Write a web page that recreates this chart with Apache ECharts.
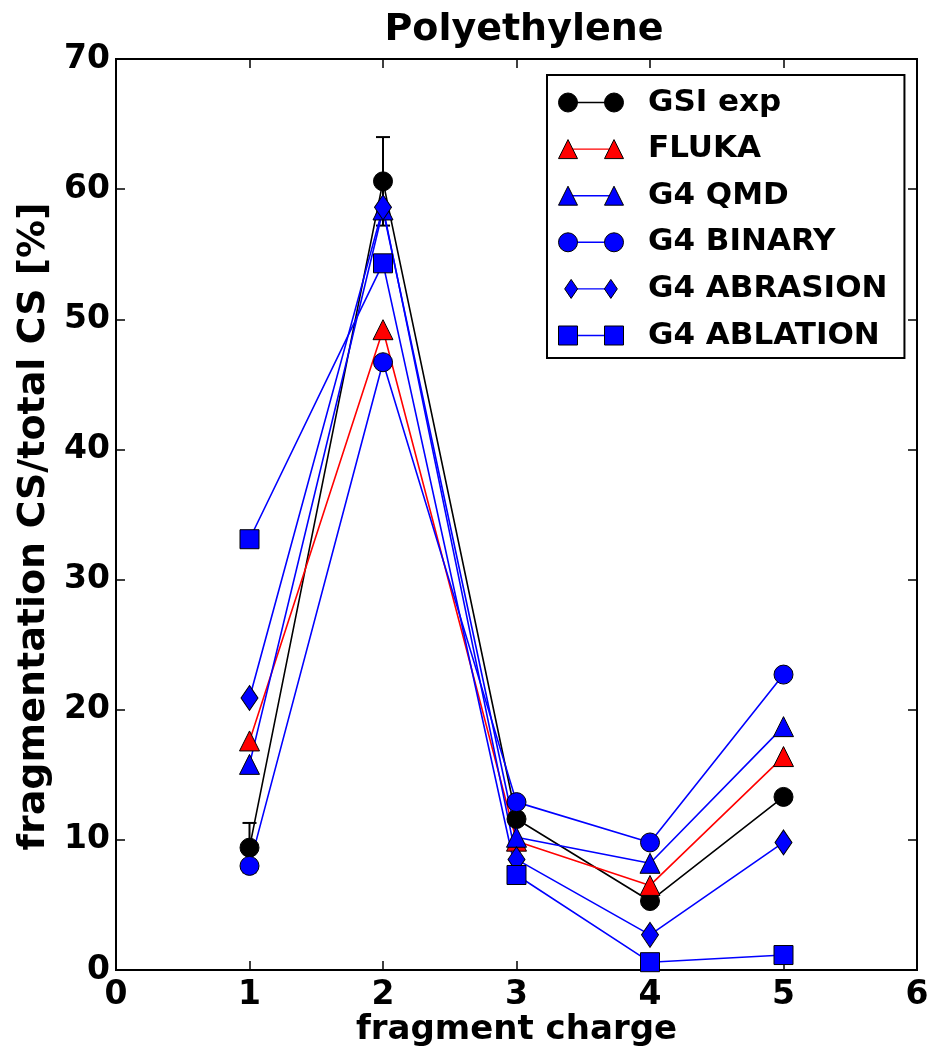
<!DOCTYPE html>
<html>
<head>
<meta charset="utf-8">
<script src="https://cdn.jsdelivr.net/npm/echarts@6/dist/echarts.min.js"></script>
<style>
html,body{margin:0;padding:0;background:#fff;}
#chart{width:931px;height:1048px;}
</style>
</head>
<body>
<div id="chart"></div>
<script>
// ---- data ----
var charges = [1, 2, 3, 4, 5];
var seriesNames = ['GSI exp', 'FLUKA', 'G4 QMD', 'G4 BINARY', 'G4 ABRASION', 'G4 ABLATION'];
var gsiExp   = [9.4, 60.6, 11.6, 5.3, 13.3];
var gsiErr   = [1.9, 3.4, 0.4, 0.3, 0.4];
var fluka    = [17.6, 49.2, 9.9, 6.5, 16.4];
var g4Qmd    = [15.8, 58.4, 10.2, 8.2, 18.7];
var g4Binary = [8.0, 46.7, 12.9, 9.8, 22.7];
var g4Abrasion = [20.9, 58.6, 8.5, 2.7, 9.8];
var g4Ablation = [33.1, 54.3, 7.3, 0.6, 1.15];
var xTicks = [0, 1, 2, 3, 4, 5, 6];
var yTicks = [0, 10, 20, 30, 40, 50, 60, 70];

// ---- styles ----
var FONT = 'DejaVu Sans';
var allValues = [gsiExp, fluka, g4Qmd, g4Binary, g4Abrasion, g4Ablation];
var colors = ['#000000', '#ff0000', '#0000ff', '#0000ff', '#0000ff', '#0000ff'];
var symbols = ['circle', 'triangle', 'triangle', 'circle', 'diamond', 'rect'];
var symbolSizes = [19, 20, 20, 19, [17, 25], 19];

var lineIcon = 'path://M0,0L0.01,0L0,0.01Z M65,19L64.99,19L65,18.99Z M9.5,8.8L55.5,8.8L55.5,10.2L9.5,10.2Z';
var markerIcons = {
  circle: 'path://M0,9.5A9.5,9.5,0,1,1,19,9.5A9.5,9.5,0,1,1,0,9.5Z M46,9.5A9.5,9.5,0,1,1,65,9.5A9.5,9.5,0,1,1,46,9.5Z',
  triangle: 'path://M0,19L9.5,0L19,19Z M46,19L55.5,0L65,19Z',
  diamond: 'path://M9.5,-1.5L17,9.5L9.5,20.5L2,9.5Z M55.5,-1.5L63,9.5L55.5,20.5L48,9.5Z',
  rect: 'path://M0,0L19,0L19,19L0,19Z M46,0L65,0L65,19L46,19Z'
};

function pairs(vals) { return charges.map(function (c, i) { return [c, vals[i]]; }); }

var series = [];
// error bars for GSI exp
series.push({
  type: 'custom',
  name: 'GSI err',
  xAxisIndex: 0, yAxisIndex: 0,
  data: charges.map(function (c, i) { return [c, gsiExp[i] - gsiErr[i], gsiExp[i] + gsiErr[i]]; }),
  renderItem: function (params, api) {
    var lo = api.coord([api.value(0), api.value(1)]);
    var hi = api.coord([api.value(0), api.value(2)]);
    var cap = 7;
    var st = { stroke: '#000', lineWidth: 2 };
    return {
      type: 'group',
      children: [
        { type: 'line', shape: { x1: lo[0], y1: lo[1], x2: hi[0], y2: hi[1] }, style: st },
        { type: 'line', shape: { x1: hi[0] - cap, y1: hi[1], x2: hi[0] + cap, y2: hi[1] }, style: st },
        { type: 'line', shape: { x1: lo[0] - cap, y1: lo[1], x2: lo[0] + cap, y2: lo[1] }, style: st }
      ]
    };
  },
  silent: true,
  z: 2
});
seriesNames.forEach(function (name, k) {
  series.push({
    type: 'line',
    name: name,
    xAxisIndex: 0, yAxisIndex: 0,
    data: pairs(allValues[k]),
    symbol: symbols[k],
    symbolSize: symbolSizes[k],
    showSymbol: true,
    showAllSymbol: true,
    lineStyle: { color: colors[k], width: 1.6 },
    itemStyle: { color: colors[k], borderColor: '#000', borderWidth: 1 },
    emphasis: { disabled: true },
    silent: true,
    z: 2
  });
});

var legendCommon = {
  orient: 'vertical',
  left: 547,
  top: 75,
  itemWidth: 65,
  itemHeight: 19,
  itemGap: 15.6,
  padding: [12, 17, 7, 11],
  selectedMode: false,
  symbolKeepAspect: true
};
var legendA = Object.assign({}, legendCommon, {
  borderColor: '#000',
  borderWidth: 2,
  backgroundColor: '#fff',
  data: seriesNames.map(function (n) { return { name: n, icon: lineIcon }; }),
  itemStyle: { borderWidth: 0 },
  textStyle: { fontFamily: FONT, fontWeight: 'bold', fontSize: 31, lineHeight: 30, color: '#000', padding: [0, 0, 0, 20] }
});
var legendB = Object.assign({}, legendCommon, {
  borderWidth: 0,
  data: seriesNames.map(function (n, k) { return { name: n, icon: markerIcons[symbols[k]] }; }),
  itemStyle: { borderColor: '#000', borderWidth: 1 },
  textStyle: { fontFamily: FONT, fontWeight: 'bold', fontSize: 31, lineHeight: 30, color: 'rgba(0,0,0,0)', padding: [0, 0, 0, 20] }
});

var tickStyle = { show: true, inside: true, length: 9, lineStyle: { color: '#000', width: 1.5 } };
var axisLineStyle = { show: true, onZero: false, lineStyle: { color: '#000', width: 2 } };
var labelStyle = { fontFamily: FONT, fontWeight: 'bold', fontSize: 33, color: '#000' };

var option = {
  animation: false,
  backgroundColor: '#fff',
  title: {
    text: 'Polyethylene',
    left: 519,
    top: 6,
    textAlign: 'center',
    textStyle: { fontFamily: FONT, fontWeight: 'bold', fontSize: 38, color: '#000' }
  },
  legend: [legendA, legendB],
  grid: {
    left: 116, right: 14, top: 59, bottom: 78,
    outerBoundsMode: 'none', containLabel: false,
    show: true, borderColor: '#000', borderWidth: 2, backgroundColor: 'transparent'
  },
  xAxis: [{
    type: 'value', min: xTicks[0], max: xTicks[xTicks.length - 1], interval: 1,
    position: 'bottom',
    name: 'fragment charge', nameLocation: 'middle', nameGap: 43, nameMoveOverlap: false,
    nameTextStyle: { fontFamily: FONT, fontWeight: 'bold', fontSize: 34, color: '#000' },
    axisLine: axisLineStyle, axisTick: tickStyle,
    axisLabel: Object.assign({ margin: 9 }, labelStyle),
    splitLine: { show: false }
  }, {
    type: 'value', min: xTicks[0], max: xTicks[xTicks.length - 1], interval: 1,
    position: 'top',
    axisLine: axisLineStyle, axisTick: tickStyle,
    axisLabel: { show: false }, splitLine: { show: false }
  }],
  yAxis: [{
    type: 'value', min: yTicks[0], max: yTicks[yTicks.length - 1], interval: 10,
    position: 'left',
    name: 'fragmentation CS/total CS [%]', nameLocation: 'middle', nameGap: 62,
    nameTextStyle: { fontFamily: FONT, fontWeight: 'bold', fontSize: 38, color: '#000', padding: [0, 24, 0, 0] },
    axisLine: axisLineStyle, axisTick: tickStyle,
    axisLabel: Object.assign({ margin: 6 }, labelStyle),
    splitLine: { show: false }
  }, {
    type: 'value', min: yTicks[0], max: yTicks[yTicks.length - 1], interval: 10,
    position: 'right',
    axisLine: axisLineStyle, axisTick: tickStyle,
    axisLabel: { show: false }, splitLine: { show: false }
  }],
  series: series
};

var chart = echarts.init(document.getElementById('chart'));
chart.setOption(option);
</script>
</body>
</html>
